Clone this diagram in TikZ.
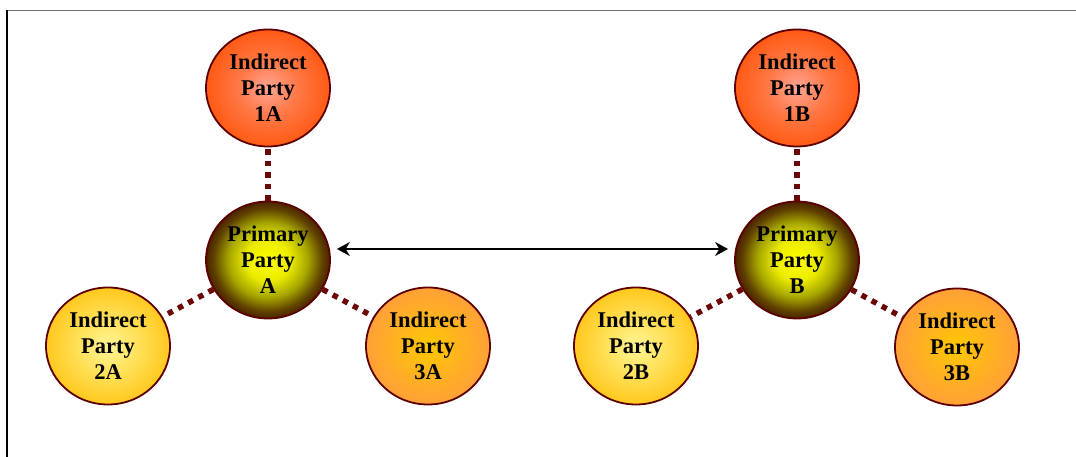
\documentclass[tikz,border=0pt]{standalone}
\usepackage{fontspec}
\setmainfont{Liberation Serif}
\usetikzlibrary{shapes.geometric,arrows.meta}
\definecolor{brd}{HTML}{5C0000}
\definecolor{dotc}{HTML}{6A0808}
\definecolor{framegray}{HTML}{707070}
\pgfdeclareradialshading{primshade}{\pgfpoint{0bp}{0bp}}{%
  color(0bp)=(yellow!100);
  color(9bp)=(yellow!92!black);
  color(16bp)=(yellow!65!black);
  color(22bp)=({rgb,255:red,95;green,65;blue,0});
  color(25bp)=({rgb,255:red,75;green,35;blue,0});
  color(50bp)=({rgb,255:red,75;green,35;blue,0})}
\pgfdeclareradialshading{redshade}{\pgfpoint{0bp}{0bp}}{%
  color(0bp)=({rgb,255:red,255;green,165;blue,150});
  color(12bp)=({rgb,255:red,255;green,120;blue,70});
  color(25bp)=({rgb,255:red,255;green,90;blue,20});
  color(50bp)=({rgb,255:red,255;green,90;blue,20})}
\pgfdeclareradialshading{yelshade}{\pgfpoint{0bp}{0bp}}{%
  color(0bp)=({rgb,255:red,255;green,245;blue,150});
  color(12bp)=({rgb,255:red,255;green,225;blue,90});
  color(25bp)=({rgb,255:red,255;green,200;blue,30});
  color(50bp)=({rgb,255:red,255;green,200;blue,30})}
\pgfdeclareradialshading{orshade}{\pgfpoint{0bp}{0bp}}{%
  color(0bp)=({rgb,255:red,255;green,200;blue,0});
  color(12bp)=({rgb,255:red,255;green,180;blue,30});
  color(25bp)=({rgb,255:red,255;green,160;blue,55});
  color(50bp)=({rgb,255:red,255;green,160;blue,55})}
\begin{document}
\begin{tikzpicture}[x=1pt,y=1pt,
  party/.style={ellipse, minimum width=124pt, minimum height=117pt, draw=brd,
    line width=1.8pt, align=center, inner sep=0pt,
    font=\fontsize{22.5}{26}\selectfont\bfseries},
  redparty/.style={party, shading=redshade},
  yelparty/.style={party, shading=yelshade},
  orparty/.style={party, shading=orshade},
  primparty/.style={party, shading=primshade},
  dotline/.style={draw=dotc, line width=5.5pt, dash pattern=on 5.5pt off 6pt},
  link/.style={draw=black, line width=1.5pt, {Stealth[length=13pt,width=14pt]}-{Stealth[length=13pt,width=14pt]}, shorten <=6pt, shorten >=6pt}
]
\useasboundingbox (0,0) rectangle (1076,457);
\draw[framegray, line width=1.5pt] (7,446.5) -- (1076,446.5);
\draw[black, line width=1.5pt] (7,0) -- (7,447.2);

\node[primparty] (pa) at (268,197) {Primary\\Party\\A};
\node[redparty]  (ia1) at (268,369) {Indirect\\Party\\1A};
\node[yelparty]  (ia2) at (108,111) {Indirect\\Party\\2A};
\node[orparty]   (ia3) at (428,111) {Indirect\\Party\\3A};

\node[primparty] (pb) at (797,197) {Primary\\Party\\B};
\node[redparty]  (ib1) at (797,369) {Indirect\\Party\\1B};
\node[yelparty]  (ib2) at (636,111) {Indirect\\Party\\2B};
\node[orparty]   (ib3) at (957,110) {Indirect\\Party\\3B};

\draw[dotline] (pa) -- (ia1);
\draw[dotline] (pa) -- (ia2);
\draw[dotline] (pa) -- (ia3);
\draw[dotline] (pb) -- (ib1);
\draw[dotline] (pb) -- (ib2);
\draw[dotline] (pb) -- (ib3);

\draw[link] ([yshift=11pt]pa.east) -- ([yshift=11pt]pb.west);
\end{tikzpicture}
\end{document}
